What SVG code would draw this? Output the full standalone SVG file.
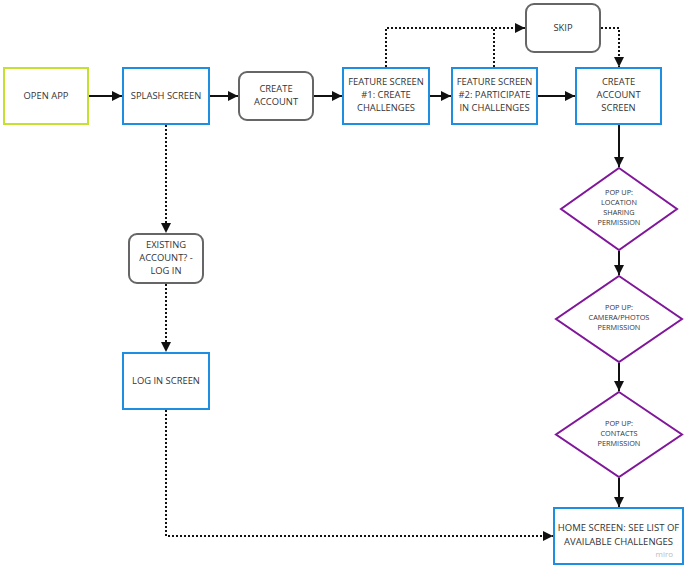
<svg xmlns="http://www.w3.org/2000/svg" width="688" height="573" viewBox="0 0 688 573">
<defs>
<marker id="ah" viewBox="0 0 10 10" refX="10" refY="5" markerWidth="10" markerHeight="10" markerUnits="userSpaceOnUse" orient="auto">
<path d="M0,0 L10,5 L0,10 z" fill="#111"/>
</marker>
<style>
.t{font-family:"Open Sans","Liberation Sans",sans-serif;font-size:9.4px;fill:#333;text-anchor:middle}
.s{font-family:"Open Sans","Liberation Sans",sans-serif;font-size:7.3px;fill:#333;text-anchor:middle}
.blue{fill:#fff;stroke:#1e8fe0;stroke-width:2}
.green{fill:#fff;stroke:#c4e031;stroke-width:2}
.gray{fill:#fff;stroke:#666;stroke-width:2}
.purple{fill:#fff;stroke:#80179a;stroke-width:2}
.solid{fill:none;stroke:#111;stroke-width:2;marker-end:url(#ah)}
.dot{fill:none;stroke:#111;stroke-width:2;stroke-dasharray:2 2;marker-end:url(#ah)}
.dotn{fill:none;stroke:#111;stroke-width:2;stroke-dasharray:2 2}
</style>
</defs>
<rect width="688" height="573" fill="#fff"/>
<g id="connectors">
<path class="solid" d="M89,96 H122"/>
<path class="solid" d="M210,96 H238"/>
<path class="solid" d="M314,96 H342"/>
<path class="solid" d="M430,96 H451"/>
<path class="solid" d="M538,96 H575"/>
<path class="dotn" d="M386,67 V28 H494"/>
<path class="dot" d="M494,67 V28 H525"/>
<path class="dot" d="M601,28 H619 V67"/>
<path class="solid" d="M619,125 V167"/>
<path class="solid" d="M619,251 V275"/>
<path class="solid" d="M619,363 V391"/>
<path class="solid" d="M619,478 V507"/>
<path class="dot" d="M166,125 V233"/>
<path class="dot" d="M166,284 V352"/>
<path class="dot" d="M166,410 V536 H553"/>
</g>
<g id="open-app"><rect class="green" x="4" y="68" width="84" height="56"/><text class="t" x="46" y="99">OPEN APP</text></g>
<g id="splash-screen"><rect class="blue" x="123" y="68" width="86" height="56"/><text class="t" x="166" y="99">SPLASH SCREEN</text></g>
<g id="create-account"><rect class="gray" x="239" y="72" width="74" height="48" rx="8"/><text class="t" x="276" y="92">CREATE</text><text class="t" x="276" y="105">ACCOUNT</text></g>
<g id="feature-1"><rect class="blue" x="343" y="68" width="86" height="56"/><text class="t" x="386" y="85">FEATURE SCREEN</text><text class="t" x="386" y="98">#1: CREATE</text><text class="t" x="386" y="111">CHALLENGES</text></g>
<g id="feature-2"><rect class="blue" x="452" y="68" width="85" height="56"/><text class="t" x="494.5" y="85">FEATURE SCREEN</text><text class="t" x="494.5" y="98">#2: PARTICIPATE</text><text class="t" x="494.5" y="111">IN CHALLENGES</text></g>
<g id="skip"><rect class="gray" x="526" y="4" width="74" height="48" rx="8"/><text class="t" x="563" y="31">SKIP</text></g>
<g id="create-account-screen"><rect class="blue" x="576" y="68" width="85" height="56"/><text class="t" x="618.5" y="85">CREATE</text><text class="t" x="618.5" y="98">ACCOUNT</text><text class="t" x="618.5" y="111">SCREEN</text></g>
<g id="popup-location"><path class="purple" d="M619,168 L677,209 L619,250 L561,209 Z"/><text class="s" x="619" y="195">POP UP:</text><text class="s" x="619" y="205">LOCATION</text><text class="s" x="619" y="215">SHARING</text><text class="s" x="619" y="225">PERMISSION</text></g>
<g id="popup-camera"><path class="purple" d="M619,276 L682,319 L619,362 L556,319 Z"/><text class="s" x="619" y="310">POP UP:</text><text class="s" x="619" y="320">CAMERA/PHOTOS</text><text class="s" x="619" y="330">PERMISSION</text></g>
<g id="popup-contacts"><path class="purple" d="M619,392 L682,434.5 L619,477 L556,434.5 Z"/><text class="s" x="619" y="426">POP UP:</text><text class="s" x="619" y="436">CONTACTS</text><text class="s" x="619" y="446">PERMISSION</text></g>
<g id="existing-account"><rect class="gray" x="129" y="234" width="74" height="49" rx="8"/><text class="t" x="166" y="248">EXISTING</text><text class="t" x="166" y="261">ACCOUNT? -</text><text class="t" x="166" y="274">LOG IN</text></g>
<g id="log-in-screen"><rect class="blue" x="123" y="353" width="86" height="56"/><text class="t" x="166" y="384">LOG IN SCREEN</text></g>
<g id="home-screen"><rect class="blue" x="554" y="508" width="129" height="56"/><text class="t" x="618.5" y="531" style="font-size:9.5px">HOME SCREEN: SEE LIST OF</text><text class="t" x="618.5" y="545" style="font-size:9.5px">AVAILABLE CHALLENGES</text><text x="673" y="557" style="font-family:'Open Sans','Liberation Sans',sans-serif;font-size:8px;fill:#bbb;text-anchor:end">miro</text></g>
</svg>
